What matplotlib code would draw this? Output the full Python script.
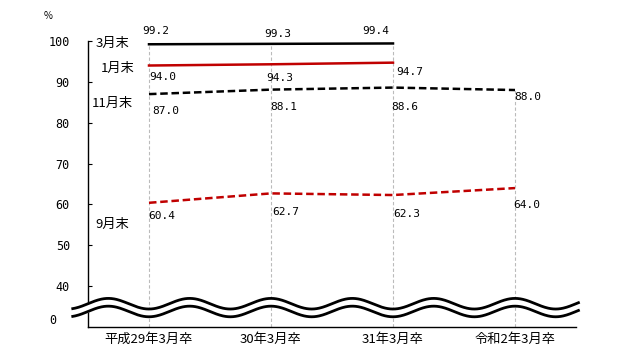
import numpy as np
import matplotlib.pyplot as plt

plt.rcParams['font.family'] = ['Noto Sans CJK JP', 'DejaVu Sans']

# categories and series
categories = ["平成29年3月卒", "30年3月卒", "31年3月卒", "令和2年3月卒"]
mar_end = [99.2, 99.3, 99.4]          # 3月末
jan_end = [94.0, 94.3, 94.7]          # 1月末
nov_end = [87.0, 88.1, 88.6, 88.0]    # 11月末
sep_end = [60.4, 62.7, 62.3, 64.0]    # 9月末
ytick_vals = [40, 50, 60, 70, 80, 90, 100]

red = "#C00000"
mono = "DejaVu Sans Mono"

fig = plt.figure(figsize=(6.27, 3.56), dpi=100)
ax = fig.add_axes([88/627, 1-327/356, (576-88)/627, (327-41)/356])
ax.set_xlim(-0.5, 3.5)
ax.set_ylim(30, 100)

# vertical guide lines down to the axis
for i in range(len(categories)):
    top = max([s[i] for s in (mar_end, jan_end, nov_end, sep_end) if i < len(s)])
    ax.vlines(i, 30, top, colors="#BBBBBB", linestyles=(0, (3, 2)), lw=0.8, zorder=1)

ax.plot(range(len(mar_end)), mar_end, color="black", lw=1.8, zorder=3)
ax.plot(range(len(jan_end)), jan_end, color=red, lw=1.8, zorder=3)
ax.plot(range(len(nov_end)), nov_end, color="black", lw=1.8, ls=(0, (3, 1.5)), zorder=3)
ax.plot(range(len(sep_end)), sep_end, color=red, lw=1.8, ls=(0, (3, 1.5)), zorder=3)

# data labels (offsets in pixels)
def lab(x, y, s, dx, dy):
    ax.annotate(s, (x, y), xytext=(dx, dy), textcoords="offset pixels",
                ha="center", va="center", fontsize=8, family=mono, annotation_clip=False)

offs_mar = [(7, 13), (7, 10), (-17, 12)]
offs_jan = [(14, -11), (9, -14), (17, -9)]
offs_nov = [(17, -17), (13, -17), (12, -19), (13, -7)]
offs_sep = [(13, -13), (15, -19), (14, -19), (12, -17)]
for series, offs in ((mar_end, offs_mar), (jan_end, offs_jan), (nov_end, offs_nov), (sep_end, offs_sep)):
    for i, v in enumerate(series):
        lab(i, v, f"{v:.1f}", *offs[i])

# series names
ax.text(-0.30, 99.3, "3月末", ha="center", va="center", fontsize=9.5)
ax.text(-0.26, 93.4, "1月末", ha="center", va="center", fontsize=9.5)
ax.text(-0.30, 84.6, "11月末", ha="center", va="center", fontsize=9.5)
ax.text(-0.30, 55.0, "9月末", ha="center", va="center", fontsize=9.5)

# axes styling
for s in ("top", "right"):
    ax.spines[s].set_visible(False)
ax.spines["left"].set_linewidth(1.0)
ax.spines["bottom"].set_linewidth(1.0)
ax.set_yticks(ytick_vals)
ax.set_yticklabels([str(v) for v in ytick_vals], family=mono, fontsize=8.5)
ax.tick_params(axis="y", direction="in", length=3, pad=13)
ax.set_xticks(range(len(categories)))
ax.set_xticklabels(categories, fontsize=9.5)
ax.tick_params(axis="x", length=0, pad=4)
ax.text(-0.79, 31.5, "0", ha="center", va="center", fontsize=8.5, family=mono)
fig.text(48/627, 1-16/356, "%", ha="center", va="center", fontsize=7)

# broken-axis wave
wx = np.linspace(-0.625, 3.52, 600)
amp = 1.3
upper = 35.7 - amp*np.cos(2*np.pi*wx/(2/3))
lower = 33.8 - amp*np.cos(2*np.pi*wx/(2/3))
ax.fill_between(wx, lower, upper, color="white", zorder=4, clip_on=False)
ax.plot(wx, upper, color="black", lw=2.0, zorder=5, clip_on=False)
ax.plot(wx, lower, color="black", lw=2.0, zorder=5, clip_on=False)

fig.savefig("out.png", dpi=100)
